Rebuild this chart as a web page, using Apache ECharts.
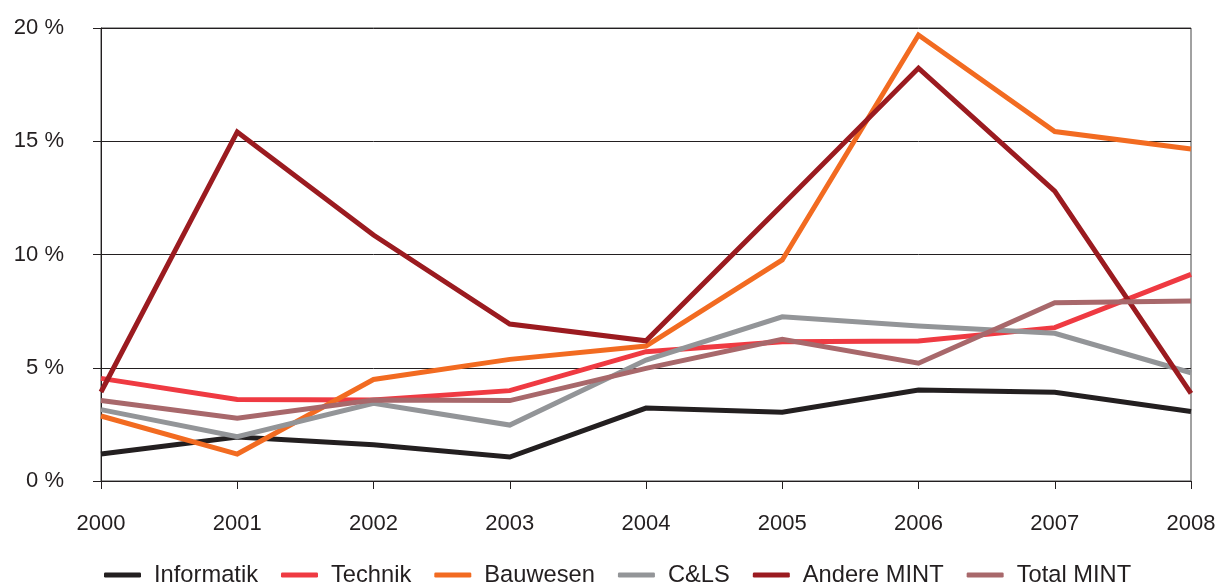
<!DOCTYPE html>
<html>
<head>
<meta charset="utf-8">
<script src="https://cdn.jsdelivr.net/npm/echarts@6/dist/echarts.min.js"></script>
<style>
html,body{margin:0;padding:0;background:#fff;}
#chart{width:1219px;height:583px;}
</style>
</head>
<body>
<div id="chart"></div>
<script>
const years = ['2000','2001','2002','2003','2004','2005','2006','2007','2008'];
const seriesNames = ['Informatik','Technik','Bauwesen','C&LS','Andere MINT','Total MINT'];
const informatik = [1.19, 1.94, 1.6, 1.06, 3.22, 3.04, 4.02, 3.92, 3.07];
const technik    = [4.53, 3.6, 3.58, 3.99, 5.71, 6.15, 6.18, 6.77, 9.12];
const bauwesen   = [2.87, 1.19, 4.48, 5.37, 5.96, 9.76, 19.69, 15.43, 14.66];
const cls        = [3.15, 1.96, 3.43, 2.47, 5.34, 7.25, 6.84, 6.52, 4.78];
const andere     = [3.93, 15.41, 10.86, 6.93, 6.19, 12.19, 18.23, 12.8, 3.87];
const total      = [3.55, 2.77, 3.58, 3.55, 4.97, 6.26, 5.2, 7.87, 7.95];
const yTicks = [0, 5, 10, 15, 20];
const colors = ['#231f20','#ef3a42','#f26b21','#939598','#9b1b20','#a8686b'];

const dataSets = [informatik, technik, bauwesen, cls, andere, total];
const font = 'Liberation Sans, Arial, sans-serif';

const chart = echarts.init(document.getElementById('chart'));
chart.setOption({
  animation: false,
  color: colors,
  grid: {left: 101, right: 28, top: 28, bottom: 102, show: true, borderColor: '#444', borderWidth: 1, backgroundColor: 'transparent'},
  legend: {
    top: 558, left: 99,
    icon: 'roundRect', itemWidth: 37, itemHeight: 5, itemGap: 23,
    textStyle: {fontFamily: font, fontSize: 23.7, color: '#231f20', padding: [0,0,0,8]},
    data: seriesNames
  },
  xAxis: {
    type: 'category', data: years, boundaryGap: false,
    axisLine: {show: true, lineStyle: {color: '#231f20', width: 1}},
    axisTick: {show: true, length: 8, alignWithLabel: true, lineStyle: {color: '#231f20'}},
    axisLabel: {fontFamily: font, fontSize: 22, color: '#231f20', margin: 32},
    splitLine: {show: false}
  },
  yAxis: {
    type: 'value', min: yTicks[0], max: yTicks[yTicks.length-1], interval: 5,
    axisLine: {show: true, lineStyle: {color: '#231f20', width: 1}},
    axisTick: {show: true, length: 8, lineStyle: {color: '#231f20'}},
    axisLabel: {fontFamily: font, fontSize: 22, color: '#231f20', margin: 37, formatter: '{value} %'},
    splitLine: {show: true, lineStyle: {color: '#231f20', width: 1}}
  },
  series: seriesNames.map((n, i) => ({
    name: n, type: 'line', data: dataSets[i],
    showSymbol: false, symbol: 'none', smooth: false,
    lineStyle: {width: 5, color: colors[i], cap: 'butt', join: 'miter'}
  }))
});
</script>
</body>
</html>
